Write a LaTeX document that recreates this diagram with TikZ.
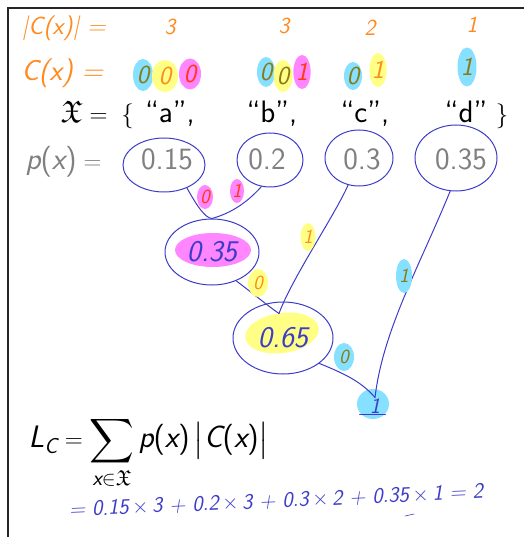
\documentclass[tikz,border=0pt]{standalone}
\usepackage{amsmath,amssymb}
\usepackage{tikz}
\usetikzlibrary{shapes.geometric,positioning}
\definecolor{penblue}{HTML}{3C3CC8}
\definecolor{penorange}{HTML}{FF8A1F}
\definecolor{hlcyan}{HTML}{86E0FF}
\definecolor{hlyellow}{HTML}{FFFF86}
\definecolor{hlpink}{HTML}{FF86FF}
\definecolor{onolive}{HTML}{8A7A14}
\definecolor{onred}{HTML}{FF3A10}
\definecolor{slidegray}{HTML}{808080}
\newcommand{\slidefont}[1]{\fontsize{#1}{#1}\selectfont\sffamily}
\newcommand{\handfont}[1]{\fontsize{#1}{#1}\selectfont\sffamily\slshape}
% sans slanted variable and sans bracket inside math
\newcommand{\sfv}[1]{\text{\sffamily\slshape #1}}
\newcommand{\sfp}[1]{\text{\sffamily #1}}

\begin{document}
\begin{tikzpicture}[x=1pt,y=1pt,
  ring/.style={draw=penblue,line width=1pt,ellipse,inner sep=0pt},
  prob/.style={text=slidegray,font=\slidefont{31},anchor=base},
  slide/.style={text=black,font=\slidefont{31},anchor=base},
  wire/.style={draw=penblue,line width=1pt,line cap=round},
  bit/.style={ellipse,inner sep=0pt,font=\handfont{20}},
  codebit/.style={ellipse,inner sep=0pt,font=\handfont{26}},
  pen/.style={text=penorange,font=\handfont{#1}},
  frame/.style={draw=black!85,line width=1.2pt},
]
\useasboundingbox (0,0) rectangle (524,-537);
\draw[frame] (8,-537) -- (8,-8) -- (524,-8);

% code lengths and code words
\node[pen=25,anchor=west] (lenlbl) at (18,-28) {|C(x)| =};
\foreach \n/\x/\y/\d in {la/170/-27/3,lb/284/-26/3,lc/370/-28/2,ld/472/-25/1}
  \node[pen=23] (\n) at (\x,\y) {\d};

\node[pen=29,anchor=west] (codelbl) at (18,-73) {C(x) =};
\foreach \n/\x/\y/\w/\h/\c/\t/\d in {
    ca1/143/-75/20/32/hlcyan/onolive/0, ca2/165/-76/26/32/hlyellow/penorange/0,
    ca3/190/-74/22/31/hlpink/onred/0,
    cb1/266/-72/18/30/hlcyan/onolive/0, cb2/283/-76/19/32/hlyellow/onolive/0,
    cb3/302/-72/17/34/hlpink/onred/1,
    cc1/353/-76/18/28/hlcyan/onolive/0, cc2/378/-70/15/34/hlyellow/penorange/1,
    cd1/467/-67/19/39/hlcyan/onolive/1}
  \node[codebit,fill=\c,text=\t,minimum width=\w pt,minimum height=\h pt] (\n) at (\x,\y) {\d};

% alphabet and probabilities
\node[slide,anchor=base west] (alpha) at (57,-123) {$\mathfrak{X} = \;\{$};
\node[slide] (sa) at (170,-123) {“a”,};
\node[slide] (sb) at (272,-123) {“b”,};
\node[slide] (sc) at (365,-123) {“c”,};
\node[slide] (sd) at (466,-123) {“d”};
\node[slide] (close) at (502,-123) {$\}$};

\node[prob,anchor=base west] (plbl) at (22,-170) {$\sfv{p}\sfp{(}\sfv{x}\sfp{)} =$};
\node[prob] (v1) at (167,-170) {0.15};
\node[prob] (v2) at (267,-170) {0.2};
\node[prob] (v3) at (362,-170) {0.3};
\node[prob] (v4) at (461,-170) {0.35};

\node[ring,minimum width=82pt,minimum height=54pt] (r1) at (164,-165) {};
\node[ring,minimum width=66pt,minimum height=54pt] (r2) at (270,-160) {};
\node[ring,minimum width=68pt,minimum height=56pt] (r3) at (359,-158) {};
\node[ring,minimum width=82pt,minimum height=66pt] (r4) at (456,-158) {};

% merged nodes
\fill[hlpink] (213,-250) ellipse (38 and 17);
\node[ring,minimum width=94pt,minimum height=66pt,text=penblue,font=\handfont{30}]
  (m035) at (212,-252) {0.35};
\fill[hlyellow,rotate around={8:(282,-333)}] (282,-333) ellipse (37 and 20);
\node[ring,minimum width=100pt,minimum height=72pt,text=penblue,font=\handfont{30}]
  (m065) at (283,-338) {0.65};
\fill[hlcyan] (373,-404) ellipse (16 and 15);
\node[text=penblue,font=\handfont{22},inner sep=1pt] (root) at (375,-406) {1};
\draw[wire] ([xshift=-9pt]root.south west) -- ([xshift=4pt]root.south east);

\draw[wire] (r1.-45) .. controls (197,-206) and (205,-218) .. (m035.north);
\draw[wire] (r2.-108) .. controls (245,-205) and (228,-214) .. (m035.north);
\draw[wire] (m035.-50) .. controls (255,-295) and (268,-306) .. ([xshift=-4pt,yshift=-12pt]m065.north);
\draw[wire] (r3.-112) .. controls (335,-215) and (292,-278) .. ([xshift=-4pt,yshift=-12pt]m065.north);
\draw[wire] (m065.-35) .. controls (340,-372) and (360,-380) .. (root.north);
\draw[wire] (r4.-100) .. controls (420,-265) and (383,-330) .. (root.north);

% edge bits
\node[bit,fill=hlpink,text=onred,minimum width=16pt,minimum height=24pt] (e1) at (205,-197) {0};
\node[bit,fill=hlpink,text=onred,minimum width=14pt,minimum height=24pt] (e2) at (237,-191) {1};
\node[bit,fill=hlyellow,text=penorange,minimum width=15pt,minimum height=28pt] (e3) at (308,-237) {1};
\node[bit,fill=hlyellow,text=penorange,minimum width=20pt,minimum height=28pt] (e4) at (258,-283) {0};
\node[bit,fill=hlcyan,text=onolive,minimum width=16pt,minimum height=34pt] (e5) at (404,-276) {1};
\node[bit,fill=hlcyan,text=onolive,minimum width=20pt,minimum height=28pt] (e6) at (344,-357) {0};

% expected length
\node[slide,anchor=base west] (lc) at (25,-447)
  {$\displaystyle \sfv{L}_{\sfv{C}} = \sum_{\sfv{x}\in\mathfrak{X}}
   \sfv{p}\sfp{(}\sfv{x}\sfp{)}\,\big|\sfv{C}\sfp{(}\sfv{x}\sfp{)}\big|$};
\node[text=penblue,font=\handfont{22},rotate=2.5] (sum) at (276,-501)
  {= 0.15\,$\times$\,3 + 0.2\,$\times$\,3 + 0.3\,$\times$\,2 + 0.35\,$\times$\,1 = 2};
\draw[wire,line width=0.6pt] (405,-516) -- (414,-514);

\end{tikzpicture}
\end{document}
